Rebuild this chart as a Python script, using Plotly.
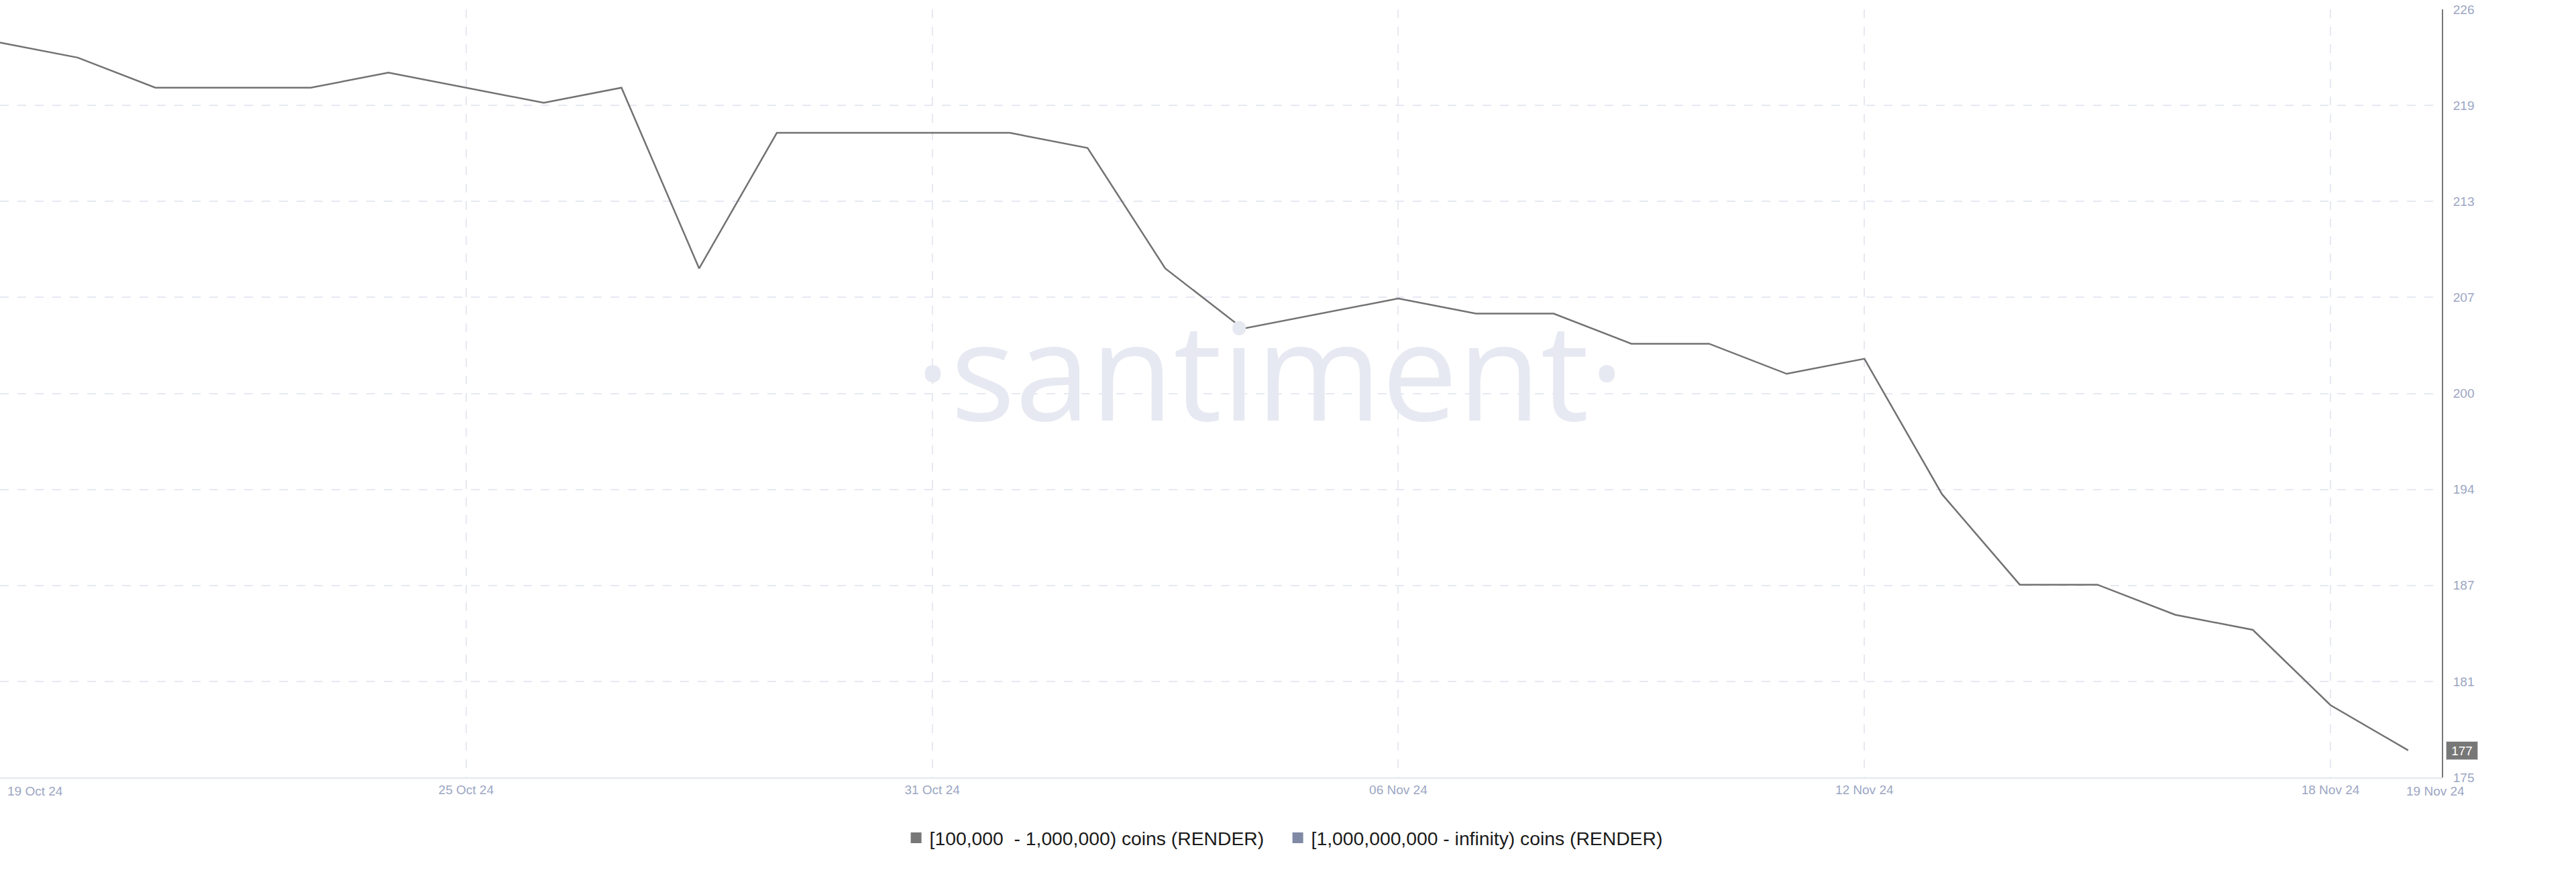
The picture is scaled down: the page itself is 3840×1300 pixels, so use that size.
import numpy as np
import pandas as pd
import plotly.graph_objects as go

# ---------------- data ----------------
start_date = "2024-10-19"
end_date = "2024-11-19"
dates = pd.date_range(start_date, end_date, freq="D")

holders_100k_1m = [
    224, 223, 221, 221, 221, 222, 221, 220, 221, 209,
    218, 218, 218, 218, 217, 209, 205, 206, 207, 206,
    206, 204, 204, 202, 203, 194, 188, 188, 186, 185,
    180, 177,
]

series_names = [
    "[100,000  - 1,000,000) coins (RENDER)",
    "[1,000,000,000 - infinity) coins (RENDER)",
]
series_colors = ["#777777", "#808aa5"]

x_tick_dates = ["2024-10-19", "2024-10-25", "2024-10-31", "2024-11-06", "2024-11-12", "2024-11-18"]
x_tick_text = ["", "25 Oct 24", "31 Oct 24", "06 Nov 24", "12 Nov 24", "18 Nov 24"]
x_first_label = "19 Oct 24"
x_last_label = "19 Nov 24"

y_min, y_max = 175.2, 226.2
y_tick_text = ["175", "181", "187", "194", "200", "207", "213", "219", "226"]
y_tick_vals = list(np.linspace(y_min, y_max, len(y_tick_text)))

last_value_label = str(holders_100k_1m[-1])

# ---------------- styling ----------------
LABEL_COLOR = "#9ba6c3"
GRID_COLOR = "#e6e9f2"
FONT = "Liberation Sans, Arial, sans-serif"

fig = go.Figure()

fig.add_trace(go.Scatter(
    x=dates, y=holders_100k_1m, mode="lines",
    line=dict(color="#727272", width=2.5),
    showlegend=False, hoverinfo="x+y",
))

# legend entries (square swatches)
for name, color in zip(series_names, series_colors):
    fig.add_trace(go.Scatter(
        x=[None], y=[None], mode="markers", name=name,
        marker=dict(symbol="square", size=18, color=color),
    ))

x_end = dates[-1] + pd.Timedelta(hours=10.4)

fig.update_layout(
    width=3840, height=1300,
    margin=dict(l=0, r=200, t=14, b=141),
    paper_bgcolor="white", plot_bgcolor="white",
    font=dict(family=FONT, size=19, color=LABEL_COLOR),
    legend=dict(
        orientation="h", xref="container", yref="container",
        x=0.4986, xanchor="center", y=1 - 1249 / 1300, yanchor="middle",
        font=dict(size=28.3, color="#1a1a1a", family=FONT),
        itemwidth=30, entrywidth=524, entrywidthmode="pixels",
        bgcolor="rgba(0,0,0,0)",
    ),
    xaxis=dict(
        type="date",
        range=[dates[0], x_end],
        tickvals=x_tick_dates, ticktext=x_tick_text,
        showgrid=True, gridcolor=GRID_COLOR, gridwidth=1.5, griddash="13px,13px",
        showline=True, linecolor="#e3e6ef", linewidth=2,
        ticks="", ticklabelstandoff=0,
        tickfont=dict(size=19, color=LABEL_COLOR),
        zeroline=False, fixedrange=True,
    ),
    yaxis=dict(
        side="right",
        range=[y_min, y_max],
        tickvals=y_tick_vals, ticktext=y_tick_text,
        showgrid=True, gridcolor=GRID_COLOR, gridwidth=1.5, griddash="13px,13px",
        showline=True, linecolor="#777777", linewidth=2,
        ticks="", ticklabelstandoff=11,
        tickfont=dict(size=19, color=LABEL_COLOR),
        zeroline=False, fixedrange=True,
    ),
)

annotations = [
    # watermark
    dict(text="·santiment·", xref="paper", yref="paper", x=0.52, y=0.533,
         xanchor="center", yanchor="middle", showarrow=False,
         font=dict(family="Open Sans, sans-serif", size=202, color="#e7e9f2")),
    # edge date labels
    dict(text=x_first_label, xref="paper", yref="paper", x=0, y=0,
         xanchor="left", yanchor="middle", xshift=9, yshift=-20, showarrow=False,
         font=dict(size=19, color=LABEL_COLOR, family=FONT)),
    dict(text=x_last_label, xref="paper", yref="paper", x=1, y=0,
         xanchor="center", yanchor="middle", xshift=-10, yshift=-20, showarrow=False,
         font=dict(size=19, color=LABEL_COLOR, family=FONT)),
    # last value badge
    dict(text=last_value_label, xref="paper", yref="y", x=1, y=holders_100k_1m[-1],
         xanchor="left", yanchor="middle", xshift=6, showarrow=False,
         bgcolor="#777777", bordercolor="#d0d0d0", borderwidth=1, borderpad=1,
         width=44, height=24,
         font=dict(size=19, color="white", family=FONT)),
]
fig.update_layout(annotations=annotations)

fig.write_html("out.html", config={"displayModeBar": False},
               post_script="document.body.style.margin='0';")
